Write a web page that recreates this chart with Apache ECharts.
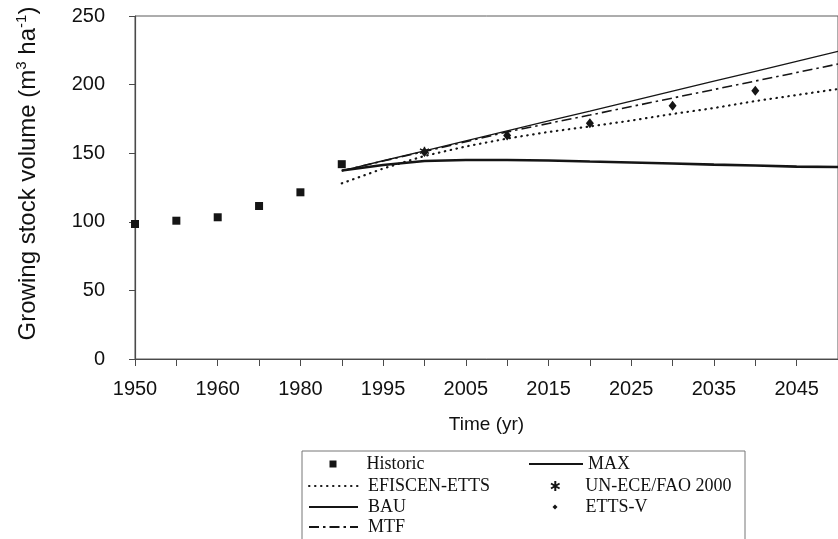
<!DOCTYPE html>
<html>
<head>
<meta charset="utf-8">
<title>Growing stock volume</title>
<script src="https://cdn.jsdelivr.net/npm/echarts@6/dist/echarts.min.js"></script>
<style>
  html, body { margin: 0; padding: 0; background: #fff; }
  #chart { width: 838px; height: 539px; }
</style>
</head>
<body>
<div id="chart"></div>
<script>
// x categories (uneven spacing in the original, one tick each)
const years = ['1950', '1955', '1960', '1970', '1980', '1990', '1995', '2000', '2005',
  '2010', '2015', '2020', '2025', '2030', '2035', '2040', '2045', '2050'];

// historic inventory 1950-1990
const historic = [98.4, 100.8, 103.3, 111.5, 121.5, 142.0];

// scenario projections, 1990-2050 in 5 year steps
const projYears = ['1990', '1995', '2000', '2005', '2010', '2015', '2020', '2025', '2030', '2035', '2040', '2045', '2050'];
const efiscenEtts = [128.0, 138.8, 148.0, 154.9, 160.7, 165.5, 169.5, 173.8, 178.6, 182.9, 188.0, 192.4, 196.8];
const bau = [137.2, 144.5, 151.7, 159.0, 166.2, 173.5, 180.7, 188.0, 195.2, 202.5, 209.7, 217.0, 224.2];
const mtf = [137.2, 144.3, 151.2, 158.3, 165.5, 171.7, 177.8, 184.0, 190.2, 196.4, 202.6, 208.8, 215.0];
const maxScen = [137.4, 141.4, 144.3, 145.0, 145.0, 144.7, 143.9, 143.2, 142.5, 141.7, 141.0, 140.2, 139.9];

const ettsVYears = ['2000', '2010', '2020', '2030', '2040'];
const ettsV = [150.9, 162.9, 171.8, 184.6, 195.6];

const uneceYears = ['2000'];
const unece = [151.5];

const yTicks = [0, 50, 100, 150, 200, 250];

const ink = '#151515';
const axisInk = '#4a4a4a';
const asterisk = 'path://M5,0L5,10M0.7,2.5L9.3,7.5M0.7,7.5L9.3,2.5';

function pairs(xs, vs) {
  return xs.map((x, i) => [x, vs[i]]);
}

const chart = echarts.init(document.getElementById('chart'));

function legendFont(pad) {
  return { fontFamily: 'Liberation Serif', fontSize: 18, color: '#111', lineHeight: 20, padding: [0, 0, 0, pad] };
}

// one legend per entry so the two columns line up like the original box
function lineLegend(name, left, top, width, pad) {
  return {
    data: [name], left: left, top: top, padding: 0, orient: 'vertical',
    itemWidth: width, itemHeight: 10, selectedMode: false,
    itemStyle: { opacity: 0 },   // hide the default circle, keep the line
    textStyle: legendFont(pad)
  };
}
function markLegend(name, centerX, top, size, pad) {
  return {
    data: [name], left: centerX - size / 2, top: top, padding: 0, orient: 'vertical',
    itemWidth: size, itemHeight: size, selectedMode: false,
    textStyle: legendFont(pad)
  };
}

const option = {
  backgroundColor: '#ffffff',
  animation: false,
  grid: {
    left: 135,
    top: 16,
    right: -8,   // plot runs past the cropped right edge
    bottom: 180,
    show: true,
    borderColor: '#5a5a5a',
    borderWidth: 1,
    backgroundColor: 'transparent'
  },
  legend: [
    markLegend('Historic', 333, 454, 7, 25),
    lineLegend('EFISCEN-ETTS', 308, 476, 49, 5),
    lineLegend('BAU', 308, 497, 49, 5),
    lineLegend('MTF', 308, 517, 49, 5),
    lineLegend('MAX', 528, 454, 54, 0),
    markLegend('UN-ECE/FAO 2000', 555, 476, 10, 20),
    markLegend('ETTS-V', 555, 497, 5, 23)
  ],
  graphic: [{
    type: 'rect',
    shape: { x: 302, y: 451, width: 443, height: 120 },
    style: { fill: 'none', stroke: '#777', lineWidth: 1 },
    silent: true
  }],
  xAxis: {
    type: 'category',
    data: years,
    boundaryGap: false,
    name: 'Time (yr)',
    nameLocation: 'middle',
    nameGap: 56,
    nameTextStyle: { fontFamily: 'Liberation Sans', fontSize: 19, color: '#111' },
    axisLine: { lineStyle: { color: axisInk, width: 1.2 } },
    axisTick: { show: true, interval: 0, length: 7, lineStyle: { color: axisInk } },
    axisLabel: { interval: 1, margin: 20, fontFamily: 'Liberation Sans', fontSize: 20, color: '#111' },
    splitLine: { show: false }
  },
  yAxis: {
    type: 'value',
    min: yTicks[0],
    max: yTicks[yTicks.length - 1],
    interval: 50,
    name: 'Growing stock volume (m{sup|3} ha{sup|-1})',
    nameLocation: 'middle',
    nameGap: 93,
    nameTextStyle: {
      fontFamily: 'Liberation Sans', fontSize: 24, color: '#111', lineHeight: 28,
      padding: [0, 0, 0, 28],
      rich: { sup: { fontFamily: 'Liberation Sans', fontSize: 15, verticalAlign: 'top', lineHeight: 15, color: '#111' } }
    },
    axisLine: { show: true, lineStyle: { color: axisInk, width: 1.2 } },
    axisTick: { show: true, length: 6, lineStyle: { color: axisInk } },
    axisLabel: { margin: 30, fontFamily: 'Liberation Sans', fontSize: 20, color: '#111' },
    splitLine: { show: false }
  },
  series: [
    {
      name: 'EFISCEN-ETTS',
      type: 'line',
      data: pairs(projYears, efiscenEtts),
      symbol: 'none',
      lineStyle: { color: ink, width: 2.2, type: [0.5, 5.5], cap: 'round' },
      itemStyle: { color: ink }
    },
    {
      name: 'BAU',
      type: 'line',
      data: pairs(projYears, bau),
      symbol: 'none',
      lineStyle: { color: ink, width: 1.3 },
      itemStyle: { color: ink }
    },
    {
      name: 'MTF',
      type: 'line',
      data: pairs(projYears, mtf),
      symbol: 'none',
      lineStyle: { color: ink, width: 1.6, type: [10, 4, 2.5, 4] },
      itemStyle: { color: ink }
    },
    {
      name: 'MAX',
      type: 'line',
      data: pairs(projYears, maxScen),
      symbol: 'none',
      lineStyle: { color: ink, width: 2.6 },
      itemStyle: { color: ink }
    },
    {
      name: 'Historic',
      type: 'scatter',
      data: pairs(years.slice(0, historic.length), historic),
      symbol: 'rect',
      symbolSize: 8,
      itemStyle: { color: ink, opacity: 1 },
      z: 5
    },
    {
      name: 'UN-ECE/FAO 2000',
      type: 'scatter',
      data: pairs(uneceYears, unece),
      symbol: asterisk,
      symbolSize: 9,
      itemStyle: { color: ink, borderColor: ink, borderWidth: 1.4, opacity: 1 },
      z: 5
    },
    {
      name: 'ETTS-V',
      type: 'scatter',
      data: pairs(ettsVYears, ettsV),
      symbol: 'diamond',
      symbolSize: [8, 10],
      itemStyle: { color: ink, opacity: 1 },
      z: 6
    }
  ]
};

chart.setOption(option);
</script>
</body>
</html>
